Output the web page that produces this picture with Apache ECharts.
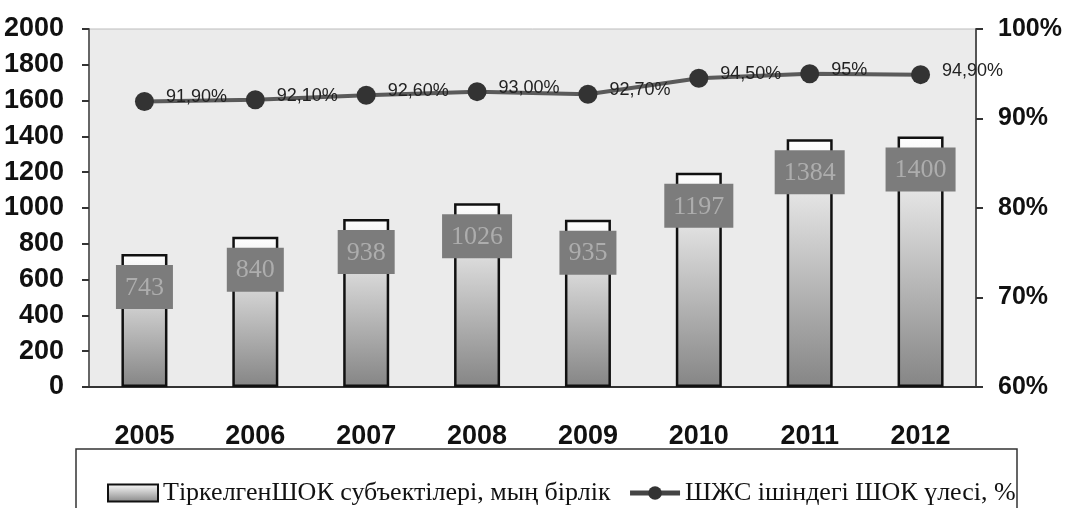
<!DOCTYPE html>
<html>
<head>
<meta charset="utf-8">
<script src="https://cdn.jsdelivr.net/npm/echarts@6/dist/echarts.min.js"></script>
<style>html,body{margin:0;padding:0;background:#fff;}#c{width:1067px;height:508px;}</style>
</head>
<body>
<div id="c"></div>
<script>
const years = ['2005','2006','2007','2008','2009','2010','2011','2012'];
const entities = [743, 840, 938, 1026, 935, 1197, 1384, 1400];
const share = [91.9, 92.1, 92.6, 93.0, 92.7, 94.5, 95.0, 94.9];
const shareLabels = ['91,90%','92,10%','92,60%','93,00%','92,70%','94,50%','95%','94,90%'];
const barName = 'ТіркелгенШОК субъектілері, мың бірлік';
const lineName = 'ШЖС ішіндегі ШОК үлесі, %';

const sans = '"Liberation Sans",Arial,sans-serif';
const serif = '"Liberation Serif","Times New Roman",serif';

const chart = echarts.init(document.getElementById('c'));
chart.setOption({
  animation: false,
  backgroundColor: '#ffffff',
  graphic: [{
    type: 'rect', z: -1,
    shape: {x: 76, y: 449, width: 941, height: 80},
    style: {fill: '#ffffff', stroke: '#333333', lineWidth: 1.5}
  }],
  grid: {
    left: 89, right: 91, top: 29, bottom: 121,
    outerBoundsMode: 'none', containLabel: false,
    show: true, backgroundColor: '#ebebeb', borderColor: '#bdbdbd', borderWidth: 1
  },
  legend: {
    left: 102, top: 475,
    itemWidth: 50, itemHeight: 17, itemGap: 17,
    textStyle: {fontFamily: serif, fontSize: 26, color: '#111'},
    data: [
      {name: barName, icon: 'rect'},
      {name: lineName, lineStyle: {width: 5, color: '#444'}, itemStyle: {color: '#333'}}
    ]
  },
  xAxis: [{
    type: 'category', data: years,
    axisLine: {lineStyle: {color: '#333', width: 2}},
    axisTick: {inside: true, length: 7, lineStyle: {color: '#555', width: 1.5}},
    axisLabel: {fontFamily: sans, fontWeight: 'bold', fontSize: 27, color: '#111', margin: 36}
  }, {
    type: 'category', data: years, position: 'bottom', z: 5,
    axisLine: {show: false},
    axisTick: {inside: true, alignWithLabel: true, length: 6, lineStyle: {color: '#555', width: 1.5}},
    axisLabel: {show: false}
  }],
  yAxis: [{
    type: 'value', min: 0, max: 2000, interval: 200,
    splitLine: {show: false},
    axisLine: {show: true, lineStyle: {color: '#666', width: 2}},
    axisTick: {show: true, length: 7, lineStyle: {color: '#333', width: 2}},
    axisLabel: {fontFamily: sans, fontWeight: 'bold', fontSize: 27, color: '#111', margin: 25,
      formatter: v => String(v)}
  }, {
    type: 'value', min: 60, max: 100, interval: 10, position: 'right',
    splitLine: {show: false},
    axisLine: {show: true, lineStyle: {color: '#555', width: 2}},
    axisTick: {show: true, length: 7, lineStyle: {color: '#333', width: 2}},
    axisLabel: {fontFamily: sans, fontWeight: 'bold', fontSize: 25, color: '#111', margin: 22,
      formatter: v => v + '%'}
  }],
  series: [{
    name: barName, type: 'bar', data: entities, barWidth: 46, yAxisIndex: 0,
    itemStyle: {
      color: {type: 'linear', x: 0, y: 0, x2: 0, y2: 1,
        colorStops: [{offset: 0, color: '#ffffff'}, {offset: 1, color: '#858585'}]},
      borderColor: '#111', borderWidth: 2.5
    },
    label: {
      show: true, position: 'insideTop', distance: 11,
      backgroundColor: '#7c7c7c', padding: [10, 9, 8, 9],
      fontFamily: serif, fontSize: 26, color: '#adadad'
    }
  }, {
    name: lineName, type: 'line', data: share, yAxisIndex: 1,
    symbol: 'circle', symbolSize: 19,
    lineStyle: {color: '#5a5a5a', width: 4},
    itemStyle: {color: '#333333'},
    label: {
      show: true, position: 'right', distance: 12, offset: [0, -4],
      fontFamily: sans, fontSize: 18, color: '#222',
      formatter: p => shareLabels[p.dataIndex]
    }
  }]
});
</script>
</body>
</html>
